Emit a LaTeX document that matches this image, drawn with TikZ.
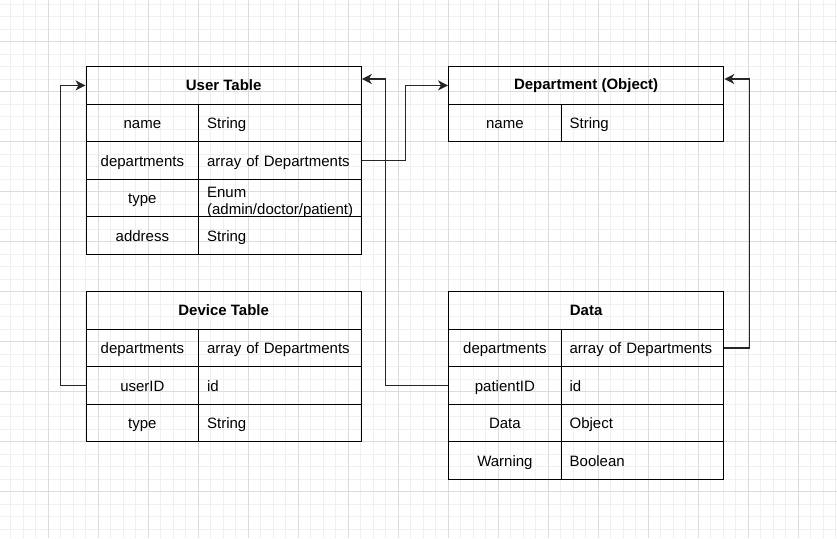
\documentclass[tikz,border=0pt]{standalone}
\usepackage{fontspec}
\setmainfont{Liberation Sans}
\usetikzlibrary{arrows.meta}
\definecolor{gridminor}{HTML}{F0F0F0}
\definecolor{gridmajor}{HTML}{DCDCDC}
\definecolor{connline}{HTML}{262626}

\begin{document}
\begin{tikzpicture}[x=1pt, y=-1pt]
	\tikzstyle{tblhead}=[rectangle, draw=black, line width=1.3pt, minimum width=275pt, minimum height=37.5pt, inner sep=0pt, anchor=north west, font=\fontsize{15}{18}\selectfont\bfseries]
	\tikzstyle{keycell}=[rectangle, draw=black, line width=1.3pt, minimum width=112.5pt, minimum height=37.5pt, inner sep=0pt, text height=14pt, text depth=2pt, anchor=north west, font=\fontsize{15}{18}\selectfont]
	\tikzstyle{valcell}=[rectangle, draw=black, line width=1.3pt, minimum height=37.5pt, inner xsep=8.5pt, inner ysep=0pt, text width=145.5pt, text height=14pt, text depth=2pt, align=left, anchor=north west, font=\fontsize{15}{18}\selectfont]
	\tikzstyle{conn}=[line width=1.3pt, draw=connline, -{Stealth[length=10pt, width=10pt, inset=3pt]}]
	\useasboundingbox (0, 0) rectangle (837, 538);
	\fill[white] (0, 0) rectangle (837, 538);
	
	% grid
	\foreach \i in {1,...,67} \draw[gridminor, line width=1pt] (-1.7+12.5*\i, 0) -- (-1.7+12.5*\i, 538);
	\foreach \i in {1,...,43} \draw[gridminor, line width=1pt] (0, -8.3+12.5*\i) -- (837, -8.3+12.5*\i);
	\foreach \i in {1,...,16} \draw[gridmajor, line width=1pt] (-1.7+50*\i, 0) -- (-1.7+50*\i, 538);
	\foreach \i in {1,...,10} \draw[gridmajor, line width=1pt] (0, -8.3+50*\i) -- (837, -8.3+50*\i);
	
	% User Table
	\draw node[tblhead] at (85.5, 66) (user) {User Table};
	\draw node[keycell] at (85.5, 103.5) (user-name-k) {name};
	\draw node[valcell] at (198, 103.5) (user-name-v) {String};
	\draw node[keycell] at (85.5, 141) (user-dept-k) {departments};
	\draw node[valcell] at (198, 141) (user-dept-v) {array of Departments};
	\draw node[keycell] at (85.5, 178.5) (user-type-k) {type};
	\draw node[valcell] at (198, 178.5) (user-type-v) {};
	\begin{scope}
		\clip (198, 178.5) rectangle (360.5, 216);
		\draw node[valcell, draw=none, text height=, text depth=, yshift=-4pt, font=\fontsize{15}{17}\selectfont] at (198, 178.5) (user-type-t) {Enum\\(admin/doctor/patient)};
	\end{scope}
	\draw node[keycell] at (85.5, 216) (user-addr-k) {address};
	\draw node[valcell] at (198, 216) (user-addr-v) {String};
	
	% Department (Object)
	\draw node[tblhead] at (448, 66) (dept) {Department (Object)};
	\draw node[keycell] at (448, 103.5) (dept-name-k) {name};
	\draw node[valcell] at (560.5, 103.5) (dept-name-v) {String};
	
	% Device Table
	\draw node[tblhead] at (85.5, 291) (dev) {Device Table};
	\draw node[keycell] at (85.5, 328.5) (dev-dept-k) {departments};
	\draw node[valcell] at (198, 328.5) (dev-dept-v) {array of Departments};
	\draw node[keycell] at (85.5, 366) (dev-userid-k) {userID};
	\draw node[valcell] at (198, 366) (dev-userid-v) {id};
	\draw node[keycell] at (85.5, 403.5) (dev-type-k) {type};
	\draw node[valcell] at (198, 403.5) (dev-type-v) {String};
	
	% Data
	\draw node[tblhead] at (448, 291) (data) {Data};
	\draw node[keycell] at (448, 328.5) (data-dept-k) {departments};
	\draw node[valcell] at (560.5, 328.5) (data-dept-v) {array of Departments};
	\draw node[keycell] at (448, 366) (data-pid-k) {patientID};
	\draw node[valcell] at (560.5, 366) (data-pid-v) {id};
	\draw node[keycell] at (448, 403.5) (data-data-k) {Data};
	\draw node[valcell] at (560.5, 403.5) (data-data-v) {Object};
	\draw node[keycell] at (448, 441) (data-warn-k) {Warning};
	\draw node[valcell] at (560.5, 441) (data-warn-v) {Boolean};
	
	\draw [conn] (dev-userid-k.west) -- ++(-25, 0) |- (user.west);
	\draw [conn] (data-pid-k.west) -- ++(-62.5, 0) |- ([yshift=-13pt]user.north east);
	\draw [conn] (user-dept-v.east) -- ++(43.5, 0) |- (dept.west);
	\draw [conn] (data-dept-v.east) -- ++(25, 0) |- ([yshift=-13pt]dept.north east);
\end{tikzpicture}
\end{document}
